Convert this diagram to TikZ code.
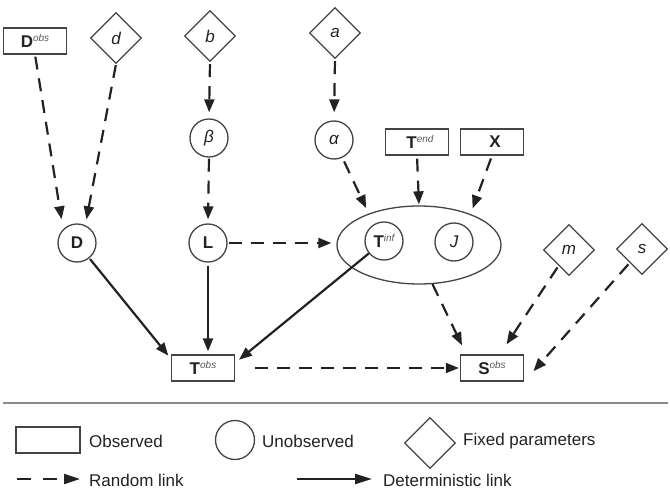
\documentclass[tikz,border=0pt]{standalone}
\usepackage{fontspec}
\setmainfont{Liberation Sans}
\usetikzlibrary{shapes.geometric,arrows.meta,calc}
\definecolor{ink}{HTML}{222222}
\definecolor{edgec}{HTML}{444444}
\definecolor{sepc}{HTML}{8A8A8A}
\newcommand\mysup[1]{\raisebox{6.5pt}{\fontsize{10}{10}\selectfont\itshape\color{black!65}#1}}
\begin{document}
\begin{tikzpicture}[x=1pt,y=-1pt,
  font=\fontsize{17}{20}\selectfont, text=ink,
  obsbox/.style={draw=edgec, line width=1.3pt, minimum width=63pt, minimum height=26pt, inner sep=0pt},
  unobs/.style={circle, draw=edgec, line width=1.3pt, minimum size=38pt, inner sep=0pt},
  fixed/.style={diamond, draw=edgec, line width=1.3pt, minimum width=51pt, minimum height=51pt, inner sep=0pt, font=\fontsize{17}{20}\selectfont\itshape},
  rnd/.style={draw=ink, line width=2.2pt, dash pattern=on 13pt off 9pt, -{Triangle[length=13pt,width=10pt]}},
  det/.style={draw=ink, line width=2.2pt, -{Triangle[length=13pt,width=10pt]}},
  lbl/.style={anchor=west, inner sep=0pt},
  sepline/.style={draw=sepc, line width=2pt}
]
\useasboundingbox (0,0) rectangle (670,492);

% nodes
\node[obsbox] (Dobs) at (35,41) {\textbf{D}\mysup{obs}};
\node[fixed] (d) at (116,38) {d};
\node[fixed] (b) at (210,36) {b};
\node[fixed] (a) at (335,33) {a};
\node[unobs, font=\fontsize{17}{20}\selectfont\itshape] (be) at (209,138) {β};
\node[unobs, font=\fontsize{17}{20}\selectfont\itshape] (al) at (334,140) {α};
\node[obsbox] (Tend) at (417,142) {\hspace{6pt}\textbf{T}\mysup{end}};
\node[obsbox] (X) at (492,142) {\hspace{6pt}\textbf{X}};
\node[unobs] (D) at (77,243) {\textbf{D}};
\node[unobs] (L) at (208,243) {\textbf{L}};
\node[ellipse, draw=edgec, line width=1.3pt, minimum width=164pt, minimum height=78pt, inner sep=0pt] (ell) at (419,245) {};
\node[unobs] (Tinf) at (384,241) {\textbf{T}\mysup{inf}};
\node[unobs, font=\fontsize{17}{20}\selectfont\itshape] (J) at (454,242) {J};
\node[fixed] (m) at (569,250) {m};
\node[fixed] (s) at (642,249) {s};
\node[obsbox] (Tobs) at (203,368) {\textbf{T}\mysup{obs}};
\node[obsbox] (Sobs) at (492,368) {\textbf{S}\mysup{obs}};

% connectors
\draw[rnd, shorten <=2pt, shorten >=10pt] (Dobs.south) -- (D.135);
\draw[rnd, shorten <=1pt, shorten >=6pt] (d.south) -- (D.65);
\draw[rnd, shorten <=2pt, shorten >=6pt] (b.south) -- (be.north);
\draw[rnd, shorten <=2pt, shorten >=8pt] (a.south) -- (al.north);
\draw[rnd, shorten <=1pt, shorten >=4pt] (be.south) -- (L.north);
\draw[rnd, shorten <=1pt, shorten >=5pt] (L.east) -- (L.east -| ell.west);
\draw[rnd, shorten <=4pt, shorten >=6pt] (al) -- (ell.148);
\draw[rnd, shorten <=3pt, shorten >=1pt] (Tend.south) -- (ell.north);
\draw[rnd, shorten <=3pt, shorten >=6pt] (X.south) -- (ell.31);
\draw[det, shorten <=1pt, shorten >=4pt] (D) -- (Tobs.164);
\draw[det, shorten <=3pt, shorten >=3pt] (L.south) -- (L.south |- Tobs.north);
\draw[det, shorten >=5pt] (Tinf) -- (Tobs.9);
\draw[rnd, shorten <=20pt, shorten >=1pt] (Tobs.east) -- (Sobs.west);
\draw[rnd, shorten >=10pt] (ell.-71) -- (Sobs.152);
\draw[rnd, shorten <=2pt, shorten >=12pt] (m) -- (Sobs.60);
\draw[rnd, shorten <=2pt, shorten >=14pt] (s) -- (Sobs.south east);

% legend
\coordinate (sepL) at (3,403);
\coordinate (sepR) at (668,403);
\draw[sepline] (sepL) -- (sepR);
\node[obsbox, minimum width=64pt] (lgbox) at (48,440) {};
\node[lbl] (lgobs) at (89,441) {Observed};
\node[unobs, minimum size=39pt] (lgcirc) at (235,440) {};
\node[lbl] (lgunobs) at (262,441) {Unobserved};
\node[fixed] (lgdia) at (430,443) {};
\node[lbl] (lgfix) at (463,441) {Fixed parameters};
\coordinate (r1) at (17,479);
\coordinate (r2) at (80,479);
\draw[rnd, dash pattern=on 14pt off 12pt, -{Triangle[length=16pt,width=10pt]}] (r1) -- (r2);
\node[lbl] (lgrnd) at (89,480) {Random link};
\coordinate (d1) at (297,479);
\coordinate (d2) at (372,479);
\draw[det, -{Triangle[length=17pt,width=10pt]}] (d1) -- (d2);
\node[lbl] (lgdet) at (383,480) {Deterministic link};
\end{tikzpicture}
\end{document}
